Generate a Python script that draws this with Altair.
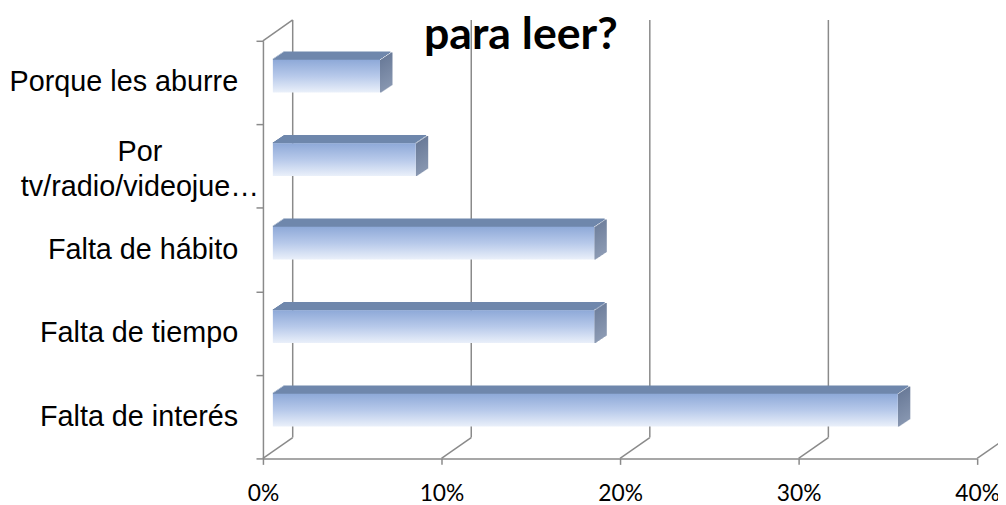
import altair as alt
import pandas as pd

# ---- data ----
categories = ["Porque les aburre", "Por tv/radio/videojue…", "Falta de hábito",
              "Falta de tiempo", "Falta de interés"]
label_lines = [["Porque les aburre"], ["Por", "tv/radio/videojue…"], ["Falta de hábito"],
               ["Falta de tiempo"], ["Falta de interés"]]
values = [0.06, 0.08, 0.18, 0.18, 0.35]
tick_values = [0.0, 0.1, 0.2, 0.3, 0.4]
title_text = "para leer?"

df = pd.DataFrame({
    "cat": categories,
    "value": values,
    "nlines": [len(l) for l in label_lines],
    "label": ["\n".join(l) for l in label_lines],
})
ticks_df = pd.DataFrame({"t": tick_values})
corner_df = pd.DataFrame({"t": tick_values[:1]})
title_df = pd.DataFrame({"t": [title_text]})

# ---- geometry / style ----
W, H = 720, 421
DX, DY = 30, -21          # wall depth
BX = 10                   # bar front offset
BH = 33                   # bar thickness
BYO = -6.5                # bar vertical offset
GRID = "#8a8a8a"

xs = alt.Scale(domain=[0, 0.4], range=[0, W], nice=False)
ys = alt.Scale(domain=categories, paddingInner=0, paddingOuter=0)

xaxis = alt.Axis(
    values=tick_values, format=".0%", title=None, grid=False,
    labelFont="Lato", labelFontSize=23, labelColor="black",
    labelPadding=18, labelFlush=False, labelOverlap=False,
    tickSize=6, tickColor=GRID, tickWidth=1.5,
    domainColor=GRID, domainWidth=1.5)
yaxis = alt.Axis(
    labels=False, title=None, grid=False, tickBand="extent", tickSize=7,
    tickColor=GRID, tickWidth=1.5, domainColor=GRID, domainWidth=1.5)

X = alt.X("value:Q", scale=xs, axis=xaxis)
XT = alt.X("t:Q", scale=xs, axis=xaxis)
Y = alt.Y("cat:N", scale=ys, axis=yaxis)

front_grad = alt.Gradient(gradient="linear", x1=0, x2=0, y1=0, y2=1,
                          stops=[alt.GradientStop(color="#8EA9D8", offset=0),
                                 alt.GradientStop(color="#B7C9EA", offset=0.5),
                                 alt.GradientStop(color="#EAF0FA", offset=1)])
side_grad = alt.Gradient(gradient="linear", x1=0, x2=0, y1=0, y2=1,
                         stops=[alt.GradientStop(color="#6A7B99", offset=0),
                                alt.GradientStop(color="#8796B0", offset=1)])

title = alt.Chart(title_df).mark_text(
    font="Lato", fontWeight="bold", fontSize=45, align="center",
    baseline="alphabetic", color="black"
).encode(text="t:N", x=alt.value(260), y=alt.value(8))

back_grid = alt.Chart(ticks_df).mark_rule(
    color=GRID, strokeWidth=1.5, xOffset=DX, yOffset=DY, y2Offset=DY
).encode(x=XT, y=alt.value(0), y2=alt.value(H))

floor_diag = alt.Chart(ticks_df).mark_rule(
    color=GRID, strokeWidth=1.5, x2Offset=DX, y2Offset=DY
).encode(x=XT, x2="t:Q", y=alt.value(H), y2=alt.value(H))

top_diag = alt.Chart(corner_df).mark_rule(
    color=GRID, strokeWidth=1.5, x2Offset=DX, y2Offset=DY
).encode(x=XT, x2="t:Q", y=alt.value(0), y2=alt.value(0))

base = alt.Chart(df)

top_slices = []
for k in range(8):
    top_slices.append(base.mark_bar(
        height=1.6, color="#6F87AC",
        xOffset=BX + 1.5 * k, x2Offset=BX + 1.5 * k,
        yOffset=BYO - BH / 2 - 0.5 - k
    ).encode(x=X, y=Y))

side_slices = []
for k in range(12):
    side_slices.append(base.mark_bar(
        height=BH, color=side_grad,
        xOffset=BX + k, x2Offset=BX + k + 1.6,
        yOffset=BYO - k * 8 / 12
    ).encode(x=X, x2="value:Q", y=Y))

front = base.mark_bar(
    height=BH, color=front_grad, xOffset=BX, x2Offset=BX, yOffset=BYO
).encode(x=X, y=Y)

labels_single = base.transform_filter("datum.nlines == 1").mark_text(
    align="right", baseline="middle", font="Liberation Sans", fontSize=29, color="black"
).encode(x=alt.value(-25), y=Y, text="label:N")

labels_multi = base.transform_filter("datum.nlines > 1").mark_text(
    align="center", baseline="middle", font="Liberation Sans", fontSize=29,
    color="black", lineBreak="\n", lineHeight=35, dy=-14
).encode(x=alt.value(-124), y=Y, text="label:N")

chart = alt.layer(
    title, back_grid, floor_diag, top_diag,
    *top_slices, *side_slices, front, labels_single, labels_multi
).properties(
    width=W, height=H,
    autosize=alt.AutoSizeParams(type="none"),
    padding={"left": 257, "top": 31, "right": 21, "bottom": 58},
    background="white",
).configure_view(stroke=None)

chart.save("out.html", embed_options={"renderer": "svg", "actions": False})
